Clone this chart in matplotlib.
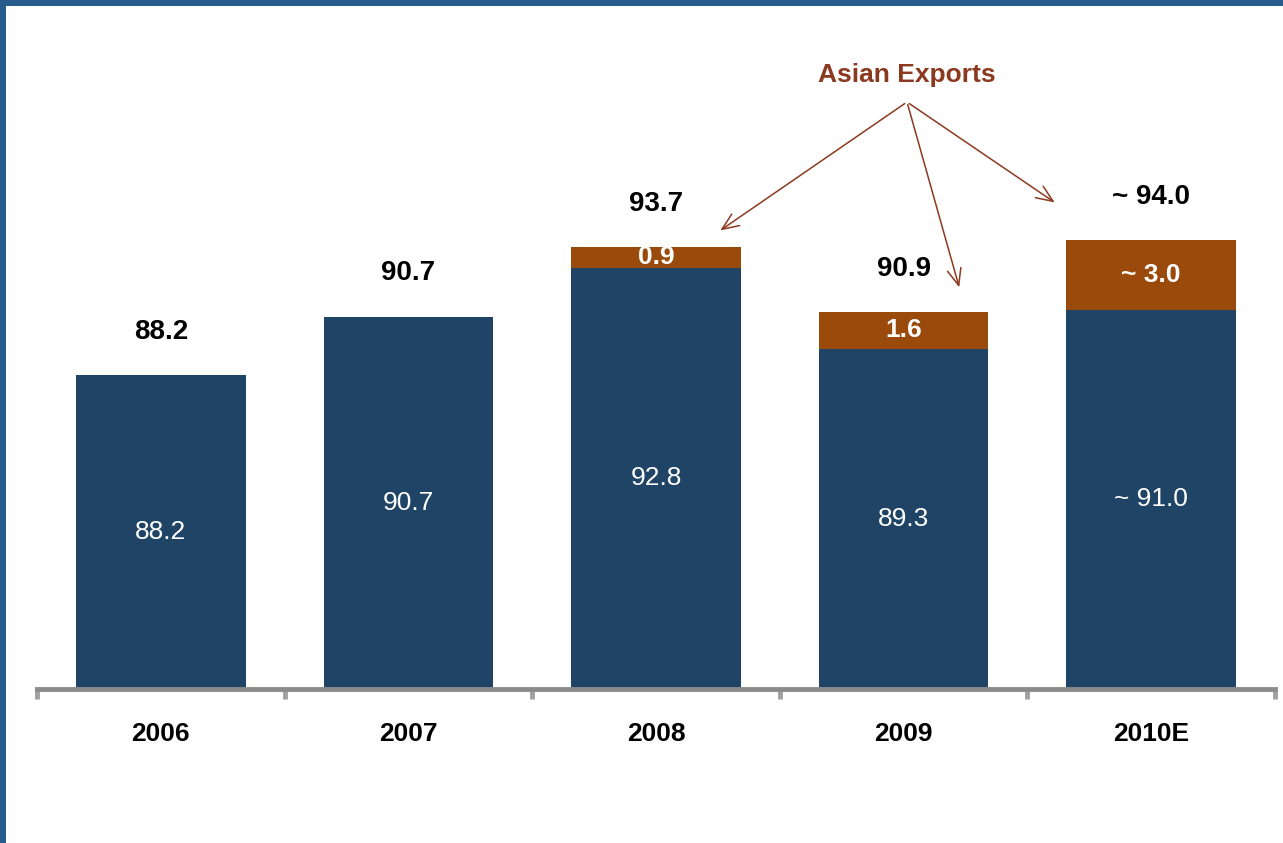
import matplotlib
matplotlib.use("Agg")
import matplotlib.pyplot as plt
from matplotlib.patches import Rectangle, FancyArrowPatch

plt.rcParams['font.family'] = ['Liberation Sans', 'DejaVu Sans']

years = ["2006", "2007", "2008", "2009", "2010E"]
domestic = [88.2, 90.7, 92.8, 89.3, 91.0]
asian = [0.0, 0.0, 0.9, 1.6, 3.0]
domestic_labels = ["88.2", "90.7", "92.8", "89.3", "~ 91.0"]
asian_labels = ["", "", "0.9", "1.6", "~ 3.0"]
total_labels = ["88.2", "90.7", "93.7", "90.9", "~ 94.0"]

BLUE = "#1f4466"
ORANGE = "#9a4a0a"
BROWN = "#8b3a1f"
FRAME = "#265d8c"

W, H = 1283, 843
fig = plt.figure(figsize=(W / 100, H / 100), dpi=100)

def fx(px):
    return px / W

def fy(py):
    return 1 - py / H

ax_left, ax_right, ax_top, ax_bottom = 37, 1275, 100, 689
ax = fig.add_axes([fx(ax_left), fy(ax_bottom), fx(ax_right - ax_left), (ax_bottom - ax_top) / H])
ymin, ymax = 74.7, 100.0
ax.set_ylim(ymin, ymax)
ax.set_xlim(-0.5, len(years) - 0.5)

x = list(range(len(years)))
width = 0.685
ax.bar(x, domestic, width=width, color=BLUE, zorder=2)
ax.bar(x, asian, width=width, bottom=domestic, color=ORANGE, zorder=2)

for i in x:
    d, a = domestic[i], asian[i]
    ax.text(i, (ymin + d) / 2, domestic_labels[i], ha="center", va="center",
            color="white", fontsize=19, zorder=3)
    if a > 0:
        ax.text(i, d + a / 2, asian_labels[i], ha="center", va="center",
                color="white", fontsize=19, fontweight="bold", zorder=3)
    ax.annotate(total_labels[i], xy=(i, d + a), xytext=(0, 31), textcoords="offset points",
                ha="center", va="center", fontsize=20, fontweight="bold", color="black")

for s in ["top", "right", "left"]:
    ax.spines[s].set_visible(False)
ax.spines["bottom"].set_color("#8c8c8c")
ax.spines["bottom"].set_linewidth(3.5)
ax.spines["bottom"].set_zorder(4)
ax.set_yticks([])
ax.set_xticks(x)
ax.set_xticklabels(years, fontsize=19, fontweight="bold", color="black")
ax.tick_params(axis="x", which="major", length=0, pad=24)
ax.set_xticks([i - 0.5 for i in range(len(years) + 1)], minor=True)
ax.tick_params(axis="x", which="minor", length=7, width=3.5, color="#a0a0a0", direction="out")

# Annotation "Asian Exports"
fig.text(fx(907), fy(75), "Asian Exports", ha="center", va="center",
         fontsize=19, fontweight="bold", color=BROWN)
apex = (fx(907), fy(102))
for end in [(718, 232), (960, 290), (1057, 204)]:
    fig.add_artist(FancyArrowPatch(
        apex, (fx(end[0]), fy(end[1])), transform=fig.transFigure,
        arrowstyle="->,head_length=12,head_width=5", mutation_scale=1,
        color=BROWN, linewidth=1.1))

# Frame
fig.add_artist(Rectangle((0, fy(6)), 1, fy(0) - fy(6), transform=fig.transFigure,
                         color=FRAME, lw=0))
fig.add_artist(Rectangle((0, 0), fx(6), 1, transform=fig.transFigure,
                         color=FRAME, lw=0))

fig.savefig("out.png", dpi=100)
